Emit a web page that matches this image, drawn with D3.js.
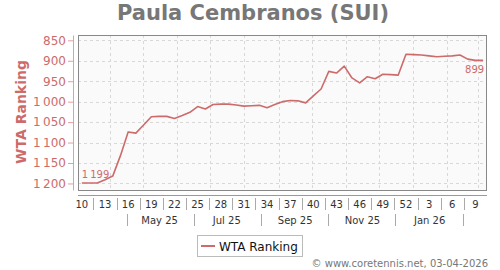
<!DOCTYPE html>
<html>
<head>
<meta charset="utf-8">
<script src="https://cdn.jsdelivr.net/npm/d3@7"></script>
<style>
  body { margin: 0; background: #fff; }
  text { font-family: "DejaVu Sans", sans-serif; }
</style>
</head>
<body>
<div id="chart"></div>
<script>
// Ranking release weeks (Monday of each ISO week)
const weekDates = [
  "2025-03-03","2025-03-10","2025-03-17","2025-03-24","2025-03-31","2025-04-07","2025-04-14",
  "2025-04-21","2025-04-28","2025-05-05","2025-05-12","2025-05-19","2025-05-26","2025-06-02",
  "2025-06-09","2025-06-16","2025-06-23","2025-06-30","2025-07-07","2025-07-14","2025-07-21",
  "2025-07-28","2025-08-04","2025-08-11","2025-08-18","2025-08-25","2025-09-01","2025-09-08",
  "2025-09-15","2025-09-22","2025-09-29","2025-10-06","2025-10-13","2025-10-20","2025-10-27",
  "2025-11-03","2025-11-10","2025-11-17","2025-11-24","2025-12-01","2025-12-08","2025-12-15",
  "2025-12-22","2025-12-29","2026-01-05","2026-01-12","2026-01-19","2026-01-26","2026-02-02",
  "2026-02-09","2026-02-16","2026-02-23","2026-03-02"
];

const ranks = [
  1199, 1199, 1199, 1191, 1182, 1132, 1074, 1077, 1057, 1037,
  1036, 1036, 1041, 1034, 1026, 1012, 1018, 1007, 1006, 1006,
  1008, 1011, 1010, 1009, 1015, 1007, 1000, 997, 998, 1003,
  986, 969, 926, 930, 913, 942, 954, 939, 944, 933,
  934, 935, 884, 885, 886, 888, 890, 889, 888, 886,
  896, 899, 899
];

// week-number tick labels, every third week starting at the first one
const weekTicks = ["10","13","16","19","22","25","28","31","34","37","40","43","46","49","52","3","6","9"];
const monthTicks = ["May 25","Jul 25","Sep 25","Nov 25","Jan 26"];
const monthTickDates = ["2025-05-16","2025-07-16","2025-09-16","2025-11-16","2026-01-16"];
const monthSepDates = ["2025-04-16","2025-06-16","2025-08-16","2025-10-16","2025-12-16","2026-02-15"];
const yTicks = [850, 900, 950, 1000, 1050, 1100, 1150, 1200];

const W = 500, H = 270;
const plot = {left: 78, right: 487, top: 35, bottom: 190};
const red = "#cd6b6b";

const parse = d3.utcParse("%Y-%m-%d");
const DAY = 864e5;
const data = weekDates.map((d, i) => ({date: new Date(+parse(d) + 3.5 * DAY), rank: ranks[i]}));

const x = d3.scaleUtc()
    .domain([parse(weekDates[0]), new Date(+parse(weekDates[weekDates.length - 1]) + 7 * DAY)])
    .range([plot.left, plot.right]);

const y = d3.scaleLinear()
    .domain([837, 1216])
    .range([plot.top, plot.bottom]);

const loc = d3.formatLocale({decimal: ",", thousands: "\u2009", grouping: [3], currency: ["", ""]});
const fmt = loc.format(",d");

const svg = d3.select("#chart").append("svg")
    .attr("width", W)
    .attr("height", H);

svg.append("rect").attr("width", W).attr("height", H).attr("fill", "#fff");

// title
svg.append("text")
    .attr("x", 253).attr("y", 20)
    .attr("text-anchor", "middle")
    .attr("font-size", 21).attr("font-weight", "bold")
    .attr("fill", "#777")
    .text("Paula Cembranos (SUI)");

// plot background
svg.append("rect")
    .attr("x", plot.left).attr("y", plot.top)
    .attr("width", plot.right - plot.left).attr("height", plot.bottom - plot.top)
    .attr("fill", "#fafafa");

// grid
const grid = svg.append("g")
    .attr("stroke", "#d8d8d8")
    .attr("stroke-dasharray", "3,3");

grid.selectAll(".hg")
    .data(yTicks)
    .join("line")
    .attr("x1", plot.left).attr("x2", plot.right)
    .attr("y1", d => Math.round(y(d)) + 0.5).attr("y2", d => Math.round(y(d)) + 0.5);

grid.selectAll(".vg")
    .data(d3.utcMonth.range(new Date(Date.UTC(2025, 3, 1)), x.domain()[1]))
    .join("line")
    .attr("x1", d => Math.round(x(d)) + 0.5).attr("x2", d => Math.round(x(d)) + 0.5)
    .attr("y1", plot.top).attr("y2", plot.bottom);

// border
svg.append("rect")
    .attr("x", plot.left + 0.5).attr("y", plot.top + 0.5)
    .attr("width", plot.right - plot.left - 1).attr("height", plot.bottom - plot.top)
    .attr("fill", "none")
    .attr("stroke", "#888");

// line
svg.append("path")
    .datum(data)
    .attr("fill", "none")
    .attr("stroke", red)
    .attr("stroke-width", 1.6)
    .attr("stroke-linejoin", "round")
    .attr("d", d3.line().x(d => x(d.date)).y(d => y(d.rank)));

// first / last value labels
const first = data[0], last = data[data.length - 1];
svg.append("text")
    .attr("x", x(first.date)).attr("y", y(first.rank) - 5)
    .attr("font-size", 10).attr("fill", red)
    .text(fmt(first.rank));
svg.append("text")
    .attr("x", x(last.date) + 1).attr("y", y(last.rank) + 13)
    .attr("text-anchor", "end")
    .attr("font-size", 10).attr("fill", red)
    .text(fmt(last.rank));

// y axis
const yAxis = svg.append("g")
    .attr("transform", "translate(73,0)")
    .call(d3.axisLeft(y).tickValues(yTicks).tickFormat(fmt).tickSize(5).tickSizeOuter(0).tickPadding(2));
yAxis.select(".domain").attr("stroke", "#e0a0a0");
yAxis.selectAll(".tick line").attr("stroke", "#e0a0a0");
yAxis.selectAll(".tick text").attr("fill", red).attr("font-size", 12)
    .attr("font-family", "DejaVu Sans, sans-serif");

svg.append("text")
    .attr("transform", "translate(26,112) rotate(-90)")
    .attr("text-anchor", "middle")
    .attr("font-size", 14).attr("font-weight", "bold")
    .attr("fill", red)
    .text("WTA Ranking");

// x axis: week numbers
svg.append("line")
    .attr("x1", plot.left).attr("x2", plot.right)
    .attr("y1", 195.5).attr("y2", 195.5)
    .attr("stroke", "#999");

const weekX = i => x(data[i].date);

svg.append("g").selectAll("text")
    .data(weekTicks)
    .join("text")
    .attr("x", (d, i) => weekX(i * 3))
    .attr("y", 208)
    .attr("text-anchor", "middle")
    .attr("font-size", 10).attr("fill", "#333")
    .text(d => d);

svg.append("g").selectAll("line")
    .data(weekTicks.slice(1))
    .join("line")
    .attr("x1", (d, i) => Math.round((weekX(i * 3) + weekX(i * 3 + 3)) / 2) + 0.5)
    .attr("x2", (d, i) => Math.round((weekX(i * 3) + weekX(i * 3 + 3)) / 2) + 0.5)
    .attr("y1", 198).attr("y2", 210)
    .attr("stroke", "#aaa");

// x axis: months
svg.append("g").selectAll("text")
    .data(monthTicks)
    .join("text")
    .attr("x", (d, i) => x(parse(monthTickDates[i])))
    .attr("y", 224)
    .attr("text-anchor", "middle")
    .attr("font-size", 10).attr("fill", "#333")
    .text(d => d);

svg.append("g").selectAll("line")
    .data(monthSepDates)
    .join("line")
    .attr("x1", d => Math.round(x(parse(d))) + 0.5)
    .attr("x2", d => Math.round(x(parse(d))) + 0.5)
    .attr("y1", 214).attr("y2", 226)
    .attr("stroke", "#aaa");

// legend
const lg = svg.append("g").attr("transform", "translate(197,235)");
lg.append("rect")
    .attr("x", 0.5).attr("y", 0.5).attr("width", 105).attr("height", 21)
    .attr("fill", "#fff").attr("stroke", "#bbb");
lg.append("line")
    .attr("x1", 4).attr("x2", 18).attr("y1", 11).attr("y2", 11)
    .attr("stroke", red).attr("stroke-width", 2);
lg.append("text")
    .attr("x", 22).attr("y", 15.5)
    .attr("font-size", 12).attr("fill", "#111")
    .text("WTA Ranking");

// footer
svg.append("text")
    .attr("x", 488).attr("y", 267)
    .attr("text-anchor", "end")
    .attr("font-size", 10).attr("fill", "#777")
    .text("© www.coretennis.net, 03-04-2026");
</script>
</body>
</html>
